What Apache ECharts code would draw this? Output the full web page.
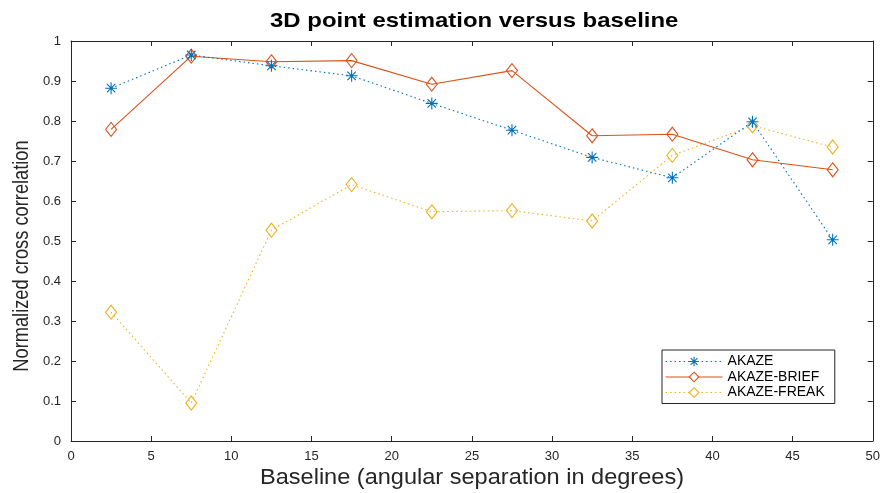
<!DOCTYPE html>
<html>
<head>
<meta charset="utf-8">
<script src="https://cdn.jsdelivr.net/npm/echarts@6/dist/echarts.min.js"></script>
<style>
  html, body { margin: 0; padding: 0; background: #fff; }
  #chart { width: 883px; height: 493px; }
</style>
</head>
<body>
<div id="chart"></div>
<script>
// Baseline bins (degrees, bin centres)
const baselines = [2.5, 7.5, 12.5, 17.5, 22.5, 27.5, 32.5, 37.5, 42.5, 47.5];

// Normalized cross correlation per descriptor
const akaze      = [0.882, 0.965, 0.938, 0.913, 0.844, 0.777, 0.709, 0.658, 0.798, 0.503];
const akazeBrief = [0.779, 0.962, 0.948, 0.951, 0.892, 0.926, 0.763, 0.767, 0.703, 0.678];
const akazeFreak = [0.322, 0.095, 0.527, 0.641, 0.573, 0.576, 0.550, 0.714, 0.788, 0.735];

const seriesNames = ['AKAZE', 'AKAZE-BRIEF', 'AKAZE-FREAK'];
const xTicks = [0, 5, 10, 15, 20, 25, 30, 35, 40, 45, 50];
const yTicks = [0, 0.1, 0.2, 0.3, 0.4, 0.5, 0.6, 0.7, 0.8, 0.9, 1];

const titleText = '3D point estimation versus baseline';
const xLabelText = 'Baseline (angular separation in degrees)';
const yLabelText = 'Normalized cross correlation';

const C_BLUE = '#0072BD', C_RED = '#D95319', C_GOLD = '#EDB120';
const AX = '#262626';
const FONT = '"Liberation Sans", Helvetica, Arial, sans-serif';

const asterisk = 'path://M0,-10L0,10M-10,0L10,0M-7.07,-7.07L7.07,7.07M-7.07,7.07L7.07,-7.07';
const DOTTED = [1.5, 3];

function pairs(ys) { return baselines.map((x, i) => [x, ys[i]]); }

const axisCommon = {
  axisLine: { show: true, onZero: false, lineStyle: { color: AX, width: 1 } },
  axisTick: { show: true, inside: true, length: 5, lineStyle: { color: AX } },
  splitLine: { show: false }
};

const markerStyles = [
  { symbol: asterisk, size: 12, color: C_BLUE, line: DOTTED },
  { symbol: 'diamond', size: [11, 14], color: C_RED, line: 'solid' },
  { symbol: 'diamond', size: [11, 14], color: C_GOLD, line: DOTTED }
];
const seriesData = [akaze, akazeBrief, akazeFreak];

const chart = echarts.init(document.getElementById('chart'), null, { renderer: 'canvas' });
chart.setOption({
  backgroundColor: '#fff',
  animation: false,
  grid: { left: 71, right: 10, top: 41, bottom: 52, containLabel: false },
  legend: {
    data: seriesNames.map((n, i) => ({
      name: n,
      itemStyle: { color: '#fff', borderColor: markerStyles[i].color, borderWidth: 1.1 },
      lineStyle: { color: markerStyles[i].color, width: 1.1, type: markerStyles[i].line }
    })),
    orient: 'vertical',
    left: 662, top: 350,
    itemWidth: 57, itemHeight: 12, itemGap: 1.5,
    padding: [4.5, 10, 4, 3],
    borderColor: AX, borderWidth: 1,
    backgroundColor: '#fff',
    textStyle: { fontFamily: FONT, fontSize: 14, color: '#000' }
  },
  graphic: [
    {
      type: 'text', left: 270, top: 11, scaleX: 1.14, originX: 0,
      style: { text: titleText, font: 'bold 21px ' + FONT, fill: '#000' }
    },
    {
      type: 'text', x: 472, y: 478, scaleX: 1.07,
      style: { text: xLabelText, font: '22px ' + FONT, fill: AX,
               align: 'center', verticalAlign: 'middle' }
    },
    {
      type: 'text', x: 22, y: 256, rotation: Math.PI / 2, scaleX: 0.83,
      style: { text: yLabelText, font: '22px ' + FONT, fill: AX,
               align: 'center', verticalAlign: 'middle' }
    }
  ],
  xAxis: [
    Object.assign({
      type: 'value', min: 0, max: 50, interval: 5, position: 'bottom',
      axisLabel: { fontFamily: FONT, fontSize: 13, color: AX, margin: 9,
                   formatter: v => xTicks.includes(v) ? String(v) : '' }
    }, axisCommon),
    Object.assign({
      type: 'value', min: 0, max: 50, interval: 5, position: 'top',
      axisLabel: { show: false }
    }, axisCommon)
  ],
  yAxis: [
    Object.assign({
      type: 'value', min: 0, max: 1, interval: 0.1, position: 'left',
      axisLabel: { fontFamily: FONT, fontSize: 13, color: AX, margin: 10,
                   formatter: v => {
                     const t = yTicks.find(k => Math.abs(k - v) < 1e-9);
                     return t === undefined ? '' : String(t);
                   } }
    }, axisCommon),
    Object.assign({
      type: 'value', min: 0, max: 1, interval: 0.1, position: 'right',
      axisLabel: { show: false }
    }, axisCommon)
  ],
  series: seriesNames.map((n, i) => ({
    name: n, type: 'line', data: pairs(seriesData[i]),
    symbol: markerStyles[i].symbol, symbolSize: markerStyles[i].size, showAllSymbol: true,
    lineStyle: { color: markerStyles[i].color, width: 1.1, type: markerStyles[i].line },
    itemStyle: { color: 'transparent', borderColor: markerStyles[i].color, borderWidth: 1.1 },
    z: 4 - i
  }))
});
</script>
</body>
</html>
